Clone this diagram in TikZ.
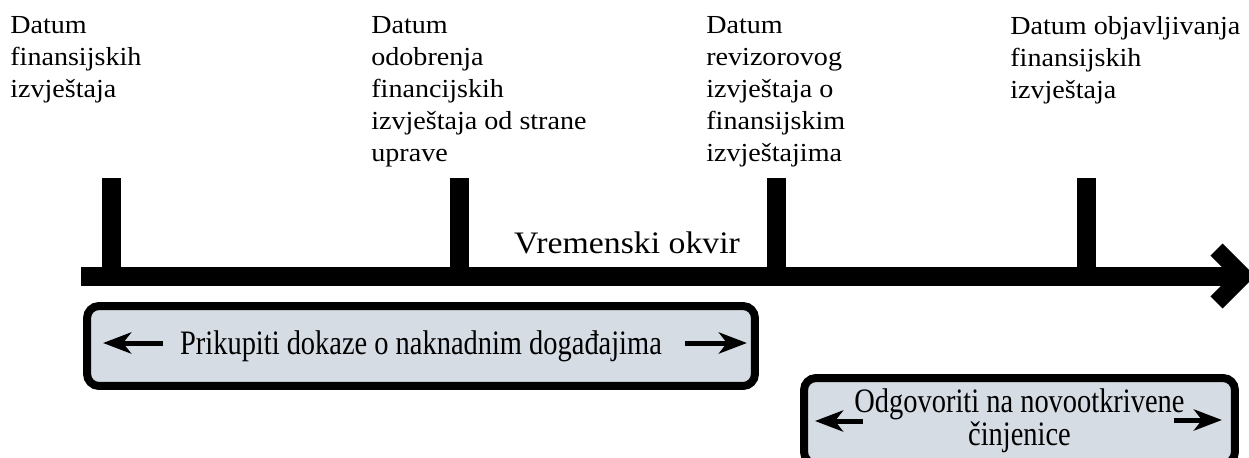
\documentclass[tikz,border=0pt]{standalone}
\usepackage{fontspec}
\setmainfont{Liberation Serif}
\newfontfamily\datefont{Liberation Serif}[FakeStretch=1.08]
\newfontfamily\taskfont{Liberation Serif}[FakeStretch=0.83]
\usetikzlibrary{arrows.meta,calc}
\definecolor{taskfill}{HTML}{D6DCE4}

\begin{document}
\begin{tikzpicture}[x=0.02cm,y=-0.02cm,
        datelabel/.style={anchor=north west,inner sep=0pt,align=left,
          font=\datefont\fontsize{14.8}{18.2}\selectfont},
        axisbar/.style={line width=0.38cm},
        tickbar/.style={line width=0.38cm},
        taskbox/.style={draw=black,line width=0.16cm,fill=taskfill,
          rounded corners=0.24cm,align=center,inner sep=0pt,
          font=\taskfont\fontsize{19.5}{18.8}\selectfont},
        taskarrow/.style={line width=0.1cm,
          -{Stealth[length=0.56cm,width=0.42cm,inset=0.16cm]}}]
        \useasboundingbox (0,0) rectangle (1249,457);
        % date labels
        \node[datelabel] (d1) at (10,16) {Datum\\finansijskih\\izvještaja};
        \node[datelabel] (d2) at (371,16) {Datum\\odobrenja\\financijskih\\izvještaja od strane\\uprave};
        \node[datelabel] (d3) at (706,16) {Datum\\revizorovog\\izvještaja o\\finansijskim\\izvještajima};
        \node[datelabel] (d4) at (1010,16) {Datum objavljivanja\\finansijskih\\izvještaja};
        % time axis
        \coordinate (axisL) at (81,276);
        \coordinate (axisR) at (1243,276);
        \foreach \x [count=\i] in {111.5,459.5,776.5,1086.5} {
          \coordinate (tk\i) at (\x,178);
          \draw[tickbar] (tk\i) -- (tk\i |- axisL);
        }
        \draw[axisbar] (axisL) -- (axisR);
        \draw[axisbar,line width=0.34cm,line join=miter]
          ($(axisR)+(-26.5,-26.5)$) -- (axisR) -- ($(axisR)+(-26.5,26.5)$);
        \node[font=\datefont\fontsize{17.8}{20}\selectfont] (frame) at (627,243) {Vremenski okvir};
        % tasks
        \node[taskbox,minimum width=13.36cm,minimum height=1.6cm] (gather) at (421,346)
          {Prikupiti dokaze o naknadnim događajima};
        \draw[taskarrow] ($(gather.west)+(80,-3)$) -- ($(gather.west)+(20,-3)$);
        \draw[taskarrow] ($(gather.east)+(-74,-3)$) -- ($(gather.east)+(-12,-3)$);
        \node[taskbox,minimum width=8.62cm,minimum height=1.72cm] (respond) at (1019.5,421)
          {Odgovoriti na novootkrivene\\činjenice};
        \draw[taskarrow] ($(respond.west)+(63,0)$) -- ($(respond.west)+(15,0)$);
        \draw[taskarrow] ($(respond.east)+(-65,-1)$) -- ($(respond.east)+(-17,-1)$);
\end{tikzpicture}
\end{document}
